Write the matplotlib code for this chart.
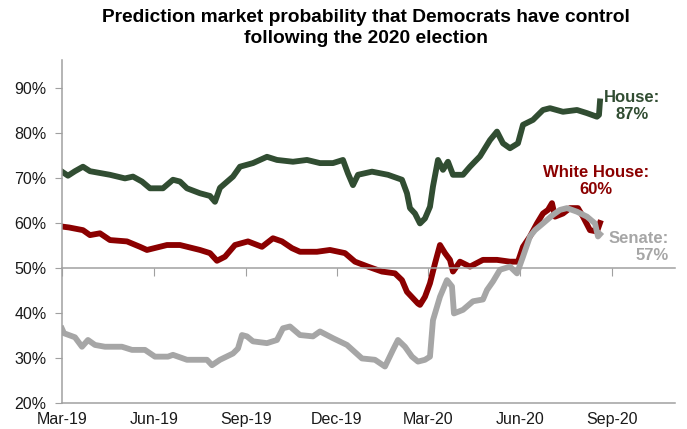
import pandas as pd
import matplotlib.pyplot as plt
import matplotlib.dates as mdates
from matplotlib.ticker import FuncFormatter

plt.rcParams["font.family"] = ["Liberation Sans", "DejaVu Sans"]

# values (percent)
house_dates = [
    "2019-03-01", "2019-03-07", "2019-03-14", "2019-03-22", "2019-03-29", "2019-04-18",
    "2019-05-03", "2019-05-11", "2019-05-20", "2019-05-28", "2019-06-10", "2019-06-20",
    "2019-06-27", "2019-07-04", "2019-07-17", "2019-07-27", "2019-08-01", "2019-08-06",
    "2019-08-19", "2019-08-26", "2019-09-08", "2019-09-22", "2019-10-02", "2019-10-18",
    "2019-11-01", "2019-11-14", "2019-11-27", "2019-12-07", "2019-12-12", "2019-12-17",
    "2019-12-22", "2020-01-05", "2020-01-21", "2020-02-04", "2020-02-09", "2020-02-12",
    "2020-02-17", "2020-02-22", "2020-02-27", "2020-03-03", "2020-03-06", "2020-03-11",
    "2020-03-16", "2020-03-21", "2020-03-26", "2020-04-05", "2020-04-12", "2020-04-22",
    "2020-05-02", "2020-05-09", "2020-05-15", "2020-05-22", "2020-05-30", "2020-06-04",
    "2020-06-14", "2020-06-24", "2020-07-01", "2020-07-14", "2020-07-28", "2020-08-07",
    "2020-08-17", "2020-08-19", "2020-08-20",
]
house = [
    71.4, 70.5, 71.5, 72.5, 71.5, 70.7,
    69.9, 70.3, 69.2, 67.7, 67.7, 69.6,
    69.2, 67.7, 66.6, 66.0, 64.7, 67.8,
    70.3, 72.5, 73.3, 74.7, 74.0, 73.6,
    74.0, 73.3, 73.3, 74.0, 71.0, 68.4,
    70.7, 71.4, 70.7, 69.6, 66.6, 63.3,
    62.1, 59.9, 61.0, 63.6, 68.1, 74.0,
    71.8, 73.6, 70.7, 70.7, 72.5, 74.8,
    78.4, 80.3, 77.7, 76.6, 77.7, 81.8,
    82.9, 85.1, 85.5, 84.7, 85.1, 84.4,
    83.6, 84.0, 87.0,
]

wh_dates = [
    "2019-03-01", "2019-03-08", "2019-03-22", "2019-03-29", "2019-04-08", "2019-04-18",
    "2019-05-05", "2019-05-18", "2019-05-25", "2019-06-14", "2019-06-27", "2019-07-17",
    "2019-07-27", "2019-08-03", "2019-08-11", "2019-08-21", "2019-09-03", "2019-09-17",
    "2019-09-28", "2019-10-07", "2019-10-17", "2019-10-25", "2019-11-11", "2019-11-24",
    "2019-12-09", "2019-12-19", "2020-01-01", "2020-01-15", "2020-01-28", "2020-02-04",
    "2020-02-09", "2020-02-20", "2020-02-22", "2020-02-27", "2020-03-03", "2020-03-08",
    "2020-03-13", "2020-03-18", "2020-03-23", "2020-03-26", "2020-04-02", "2020-04-12",
    "2020-04-25", "2020-05-09", "2020-05-22", "2020-05-30", "2020-06-04", "2020-06-11",
    "2020-06-18", "2020-06-24", "2020-06-29", "2020-07-03", "2020-07-06", "2020-07-14",
    "2020-07-21", "2020-07-29", "2020-08-03", "2020-08-10", "2020-08-17", "2020-08-20",
]
white_house = [
    59.2, 59.0, 58.4, 57.3, 57.7, 56.2,
    55.9, 54.7, 54.0, 55.1, 55.1, 54.0,
    53.3, 51.6, 52.5, 55.1, 55.9, 54.7,
    56.6, 55.9, 54.4, 53.6, 53.6, 54.0,
    53.3, 51.4, 50.3, 49.2, 48.8, 47.3,
    44.7, 42.1, 41.8, 43.6, 46.6, 51.0,
    55.1, 53.3, 51.8, 49.2, 51.4, 50.3,
    51.8, 51.8, 51.4, 51.4, 54.7, 57.0,
    59.9, 62.1, 62.9, 64.4, 61.4, 62.1,
    63.3, 63.3, 61.4, 58.4, 58.1, 60.0,
]

senate_dates = [
    "2019-03-01", "2019-03-03", "2019-03-14", "2019-03-21", "2019-03-27", "2019-04-03",
    "2019-04-13", "2019-04-30", "2019-05-10", "2019-05-23", "2019-06-02", "2019-06-15",
    "2019-06-20", "2019-07-04", "2019-07-24", "2019-07-29", "2019-08-06", "2019-08-19",
    "2019-08-24", "2019-08-28", "2019-09-02", "2019-09-08", "2019-09-22", "2019-10-02",
    "2019-10-08", "2019-10-15", "2019-10-25", "2019-11-07", "2019-11-14", "2019-11-27",
    "2019-12-11", "2019-12-26", "2020-01-08", "2020-01-18", "2020-01-26", "2020-01-31",
    "2020-02-07", "2020-02-14", "2020-02-20", "2020-02-27", "2020-03-03", "2020-03-06",
    "2020-03-13", "2020-03-20", "2020-03-25", "2020-03-27", "2020-04-05", "2020-04-15",
    "2020-04-25", "2020-04-29", "2020-05-05", "2020-05-12", "2020-05-22", "2020-05-29",
    "2020-06-04", "2020-06-11", "2020-06-16", "2020-06-24", "2020-07-04", "2020-07-11",
    "2020-07-18", "2020-07-28", "2020-08-07", "2020-08-15", "2020-08-18", "2020-08-20",
]
senate = [
    36.5, 35.5, 34.6, 32.5, 34.0, 32.9,
    32.5, 32.5, 31.8, 31.8, 30.3, 30.3,
    30.7, 29.6, 29.6, 28.4, 29.6, 31.0,
    32.1, 35.1, 34.8, 33.7, 33.3, 34.0,
    36.6, 37.0, 35.1, 34.8, 35.9, 34.4,
    32.9, 29.9, 29.6, 28.1, 31.8, 34.0,
    32.5, 30.3, 29.2, 29.6, 30.3, 38.4,
    43.6, 47.3, 45.9, 39.9, 40.7, 42.6,
    43.0, 45.1, 47.0, 49.6, 50.3, 48.8,
    52.5, 57.0, 58.4, 59.9, 61.8, 62.9,
    63.3, 62.5, 61.4, 59.9, 57.0, 57.5,
]

green = "#314d32"
red = "#8b0000"
grey = "#a6a6a6"
axis_grey = "#a0a0a0"

fig = plt.figure(figsize=(6.87, 4.29), dpi=100)
ax = fig.add_axes([0.0902, 0.0606, 0.8923, 0.7995])

ax.plot(pd.to_datetime(house_dates), house, color=green, lw=4.2, solid_joinstyle="round")
ax.plot(pd.to_datetime(wh_dates), white_house, color=red, lw=4.2, solid_joinstyle="round")
ax.plot(pd.to_datetime(senate_dates), senate, color=grey, lw=4.2, solid_joinstyle="round")

ax.set_xlim(pd.Timestamp("2019-03-01"), pd.Timestamp("2020-11-03"))
ax.set_ylim(20, 96.2)

ax.set_yticks(range(20, 91, 10))
ax.yaxis.set_major_formatter(FuncFormatter(lambda v, p: f"{v:.0f}%"))

ticks = pd.date_range("2019-03-01", "2020-09-01", freq="3MS")
ax.set_xticks(ticks)
ax.xaxis.set_major_formatter(mdates.DateFormatter("%b-%y"))

# horizontal axis crosses at 50%, labels sit low
ax.spines["bottom"].set_position(("data", 50))
ax.spines["bottom"].set_color(axis_grey)
ax.spines["bottom"].set_linewidth(1.1)
ax.spines["left"].set_color(axis_grey)
ax.spines["left"].set_linewidth(1.1)
ax.spines["top"].set_visible(False)
ax.spines["right"].set_visible(False)
ax.axhline(20, color=axis_grey, lw=1.1, clip_on=False, zorder=0)

ax.tick_params(axis="x", direction="out", length=6, color=axis_grey, pad=98,
               labelsize=11.5, labelcolor="#1a1a1a")
ax.tick_params(axis="y", direction="out", length=5, color=axis_grey, pad=6,
               labelsize=11.5, labelcolor="#1a1a1a")

ax.text(pd.Timestamp("2020-09-21"), 86.0, "House:\n87%", color=green, fontsize=12,
        fontweight="bold", ha="center", va="center", linespacing=1.15)
ax.text(pd.Timestamp("2020-08-16"), 69.4, "White House:\n60%", color=red, fontsize=12,
        fontweight="bold", ha="center", va="center", linespacing=1.15)
ax.text(pd.Timestamp("2020-10-28"), 54.7, "Senate:\n57%", color=grey, fontsize=12,
        fontweight="bold", ha="right", va="center", linespacing=1.15)

fig.suptitle("Prediction market probability that Democrats have control\nfollowing the 2020 election",
             x=0.533, y=0.978, fontsize=13.8, fontweight="bold", linespacing=1.3)

fig.savefig("out.png", dpi=100)
